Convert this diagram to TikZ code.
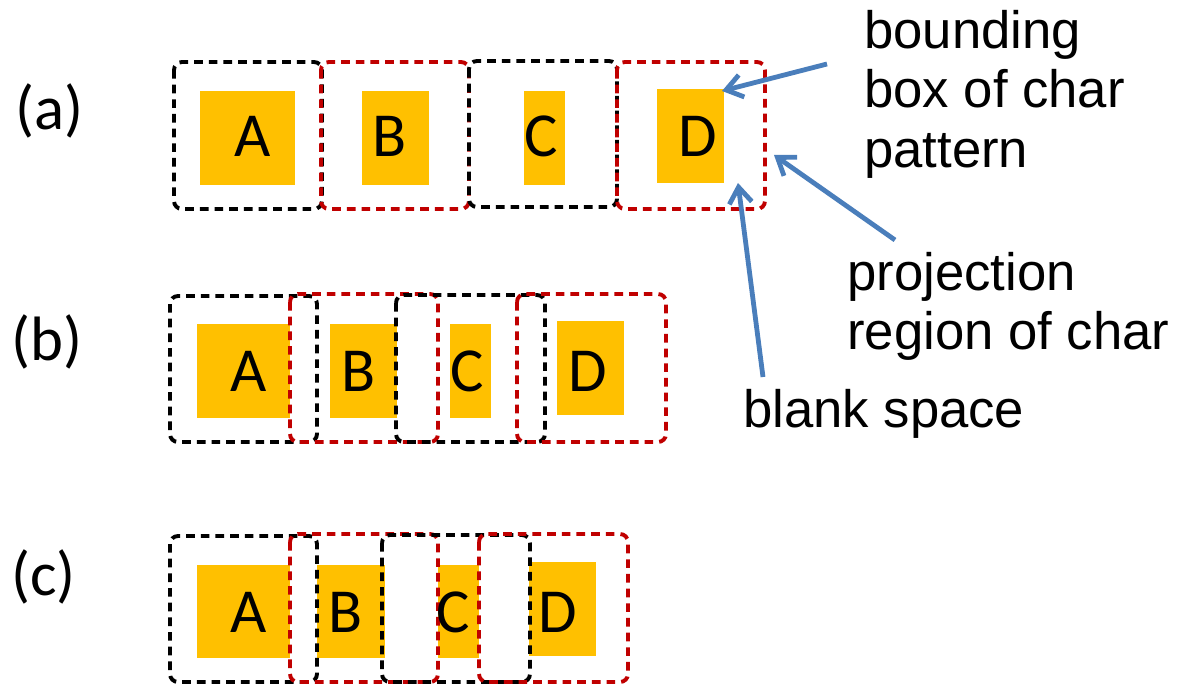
\documentclass[tikz,border=0pt]{standalone}
\usepackage{fontspec}
\setmainfont{Carlito}
\newfontfamily\arialf{Liberation Sans}
\usetikzlibrary{arrows.meta}
\definecolor{boxred}{HTML}{C00000}
\definecolor{charor}{HTML}{FFC000}
\definecolor{arrblue}{HTML}{4A7EBB}
\tikzset{
  pbox/.style={line width=2.9pt, dash pattern=on 6.5pt off 4.5pt, rounded corners=6pt},
  bbk/.style={pbox, draw=black},
  brd/.style={pbox, draw=boxred},
  chbox/.style={fill=charor},
  letter/.style={font=\fontsize{47}{56}\selectfont, inner sep=0pt, anchor=base},
  rowlab/.style={font=\fontsize{47}{56}\selectfont, inner sep=0pt, anchor=base west},
  lab/.style={font=\arialf\fontsize{39.5}{44.5}\selectfont, inner sep=0pt, align=left},
  callout/.style={draw=arrblue, line width=3.6pt, -{Straight Barb[length=12pt,width=17pt]}}
}
\begin{document}
\begin{tikzpicture}[x=0.75pt,y=-0.75pt]
\useasboundingbox (0,0) rectangle (1184,684);
% ---------- row (a)
\fill[chbox] (200,91) rectangle (295,185);
\fill[chbox] (362,91) rectangle (429,185);
\fill[chbox] (524,91) rectangle (565,185);
\fill[chbox] (657,89) rectangle (724,183);
\draw[bbk] (174,62) rectangle (322,209);
\draw[brd] (321,62) rectangle (469,209);
\draw[bbk] (469,61) rectangle (617,207);
\draw[brd] (617,62) rectangle (765,209);
\node[letter] (aA) at (253,157) {A};
\node[letter] (aB) at (390,157) {B};
\node[letter] (aC) at (541,157) {C};
\node[letter] (aD) at (698,157) {D};
\node[rowlab] (la) at (15,130) {(a)};
% ---------- row (b)
\fill[chbox] (197,324) rectangle (290,418);
\fill[chbox] (330,324) rectangle (397,418);
\fill[chbox] (450,324) rectangle (491,418);
\fill[chbox] (557,321) rectangle (624,415);
\draw[bbk] (170,296) rectangle (317,442);
\draw[brd] (290,294) rectangle (438,442);
\draw[bbk] (396,295) rectangle (545,442);
\draw[brd] (517,294) rectangle (666,442);
\node[letter] (bA) at (249,391) {A};
\node[letter] (bB) at (359,391) {B};
\node[letter] (bC) at (467,391) {C};
\node[letter] (bD) at (588,391) {D};
\node[rowlab] (lb) at (11,360) {(b)};
% ---------- row (c)
\fill[chbox] (197,565) rectangle (290,658);
\fill[chbox] (317,565) rectangle (385,658);
\fill[chbox] (438,565) rectangle (479,658);
\fill[chbox] (529,562) rectangle (596,656);
\draw[bbk] (170,536) rectangle (317,682);
\draw[brd] (290,534) rectangle (438,682);
\draw[bbk] (382,535) rectangle (530,682);
\draw[brd] (479,534) rectangle (628,682);
\node[letter] (cA) at (249,632) {A};
\node[letter] (cB) at (346,632) {B};
\node[letter] (cC) at (453,632) {C};
\node[letter] (cD) at (558,632) {D};
\node[rowlab] (lc) at (11,595) {(c)};
% ---------- labels
\node[lab, anchor=north west] (bbox) at (864,10) {bounding\\box of char\\pattern};
\node[lab, anchor=north west] (proj) at (847,252) {projection\\region of char};
\node[lab, anchor=base west] (blank) at (743,427) {blank space};
% ---------- callouts
\coordinate (t1) at (722,91);
\coordinate (t2) at (774,155);
\coordinate (t3) at (738,183);
\coordinate (s1) at (827,64);
\coordinate (s2) at (895,240);
\coordinate (s3) at (763,377);
\draw[callout] (s1) -- (t1);
\draw[callout] (s2) -- (t2);
\draw[callout] (s3) -- (t3);
\end{tikzpicture}
\end{document}
